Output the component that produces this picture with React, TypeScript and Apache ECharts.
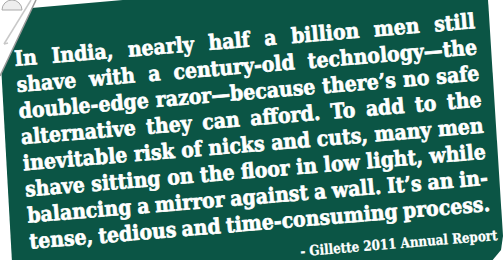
import React, { useEffect, useRef } from "react";
import * as echarts from "echarts";

const quoteLines: string[] = [
  "In India, nearly half a billion men still",
  "shave with a century-old technology\u2014the",
  "double-edge razor\u2014because there\u2019s no safe",
  "alternative they can afford. To add to the",
  "inevitable risk of nicks and cuts, many men",
  "shave sitting on the floor in low light, while",
  "balancing a mirror against a wall. It\u2019s an in-",
  "tense, tedious and time-consuming process.",
];
const attribution = "- Gillette 2011 Annual Report";

const CARD = "#0b5545";
const FONT_FAMILY = '"DejaVu Serif", serif';
const FS = 21;
const LINE_W = 462;
const LINE_GAP = 26.2;
const ANGLE = 0.082;

function buildText(): any[] {
  const ctx = document.createElement("canvas").getContext("2d")!;
  ctx.font = `bold ${FS}px ${FONT_FAMILY}`;
  const minSpace = FS * 0.28;
  const widths = quoteLines.map((l) => l.split(" ").map((w) => ctx.measureText(w).width));
  let s = 1;
  widths.forEach((ws) => {
    const nat = ws.reduce((a, b) => a + b, 0) + (ws.length - 1) * minSpace;
    s = Math.min(s, LINE_W / nat);
  });
  const els: any[] = [];
  quoteLines.forEach((line, i) => {
    const words = line.split(" ");
    const ws = widths[i];
    const total = ws.reduce((a, b) => a + b, 0) * s;
    const gap = (LINE_W - total) / (words.length - 1);
    let x = 0;
    const baseY = i * LINE_GAP;
    words.forEach((w, k) => {
      els.push({
        type: "text",
        x,
        y: baseY - FS * 0.35,
        scaleX: s,
        style: {
          text: w,
          fill: "#ffffff",
          stroke: "#ffffff",
          lineWidth: 0.7,
          font: `bold ${FS}px ${FONT_FAMILY}`,
          textAlign: "left",
          textVerticalAlign: "middle",
        },
      });
      x += ws[k] * s + gap;
    });
  });
  const afs = 14;
  ctx.font = `bold ${afs}px ${FONT_FAMILY}`;
  const aw = ctx.measureText(attribution).width;
  const targetW = 198;
  els.push({
    type: "text",
    x: 467,
    y: 213 - afs * 0.35,
    scaleX: targetW / aw,
    style: {
      text: attribution,
      fill: "#ffffff",
      stroke: "#ffffff",
      lineWidth: 0.3,
      font: `bold ${afs}px ${FONT_FAMILY}`,
      textAlign: "right",
      textVerticalAlign: "middle",
    },
  });
  return els;
}

export default function App() {
  const ref = useRef<HTMLDivElement>(null);
  useEffect(() => {
    if (!ref.current) return;
    const chart = echarts.init(ref.current, null, { renderer: "svg" });
    chart.setOption({
      animation: false,
      backgroundColor: "#ffffff",
      graphic: [
        {
          type: "polygon",
          shape: {
            points: [
              [-2, 11],
              [486, -32],
              [503, 236],
              [501, 250],
              [491, 262],
              [12, 262],
            ],
          },
          style: { fill: CARD },
        },
        {
          type: "polygon",
          shape: { points: [[0, 0], [36, 0], [0, 76]] },
          style: { fill: "#ffffff" },
        },
        {
          type: "line",
          shape: { x1: 0, y1: 76, x2: 36, y2: 0 },
          style: { stroke: "#9a9a9a", lineWidth: 1.5 },
        },
        {
          type: "line",
          shape: { x1: 4, y1: 44, x2: 31, y2: 0 },
          style: { stroke: "#c8c8c8", lineWidth: 1.5 },
        },
        {
          type: "line",
          shape: { x1: 4, y1: 44, x2: 8, y2: 43 },
          style: { stroke: "#c8c8c8", lineWidth: 1.5 },
        },
        {
          type: "sector",
          shape: { cx: 12, cy: 10, r: 10, r0: 0, startAngle: Math.PI, endAngle: Math.PI * 2 },
          style: { fill: "#eeeeee", stroke: "#aaaaaa", lineWidth: 1 },
        },
        {
          type: "group",
          x: 15,
          y: 66,
          rotation: ANGLE,
          children: buildText(),
        },
      ],
    });
    return () => chart.dispose();
  }, []);
  return (
    <div
      ref={ref}
      style={{ position: "fixed", left: 0, top: 0, width: 504, height: 260 }}
    />
  );
}
